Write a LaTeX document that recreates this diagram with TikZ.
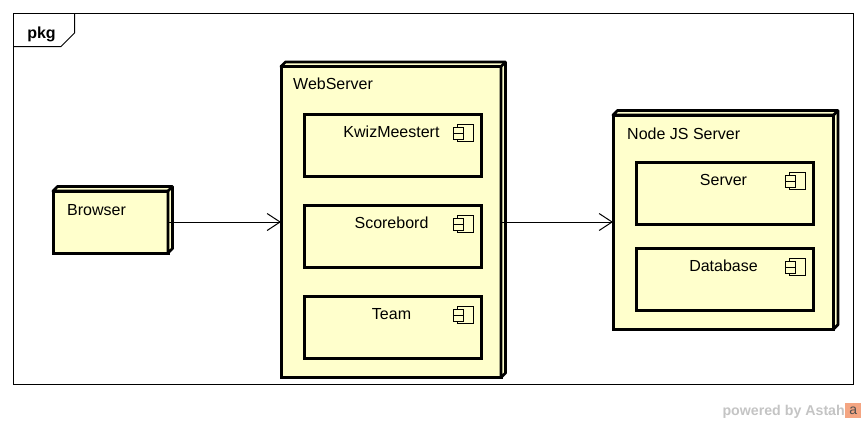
\documentclass[tikz,border=0pt]{standalone}
\usepackage{fontspec}
\setmainfont{Liberation Sans}
\usepackage{xcolor}
\usepackage{tikz}
\usetikzlibrary{calc}
\usetikzlibrary{positioning}
\usetikzlibrary{arrows.meta}
\definecolor{nodeyellow}{HTML}{FFFFCC}
\definecolor{astahgray}{HTML}{C4C4C4}
\definecolor{astahorange}{HTML}{F4A582}
\tikzstyle{frame}    = [rectangle, draw, line width=1.1pt, minimum width=840pt, minimum height=371pt, inner sep=0pt, outer sep=0pt]
\tikzstyle{tab}      = [draw, line width=1pt]
\tikzstyle{block}    = [rectangle, draw, fill=nodeyellow, line width=3pt, inner sep=0pt, outer sep=0pt]
\tikzstyle{comp}     = [block, minimum width=177pt, minimum height=62pt]
\tikzstyle{extrude}  = [draw, fill=nodeyellow, line width=2.8pt, line join=round]
\tikzstyle{icon}     = [draw, fill=nodeyellow, line width=1pt]
\tikzstyle{nodetext} = [anchor=base west, inner sep=0pt, font=\fontsize{16}{18}\selectfont]
\tikzstyle{comptext} = [anchor=base, inner sep=0pt, xshift=-1pt, yshift=-23pt, font=\fontsize{16}{18}\selectfont]
\tikzstyle{line}     = [draw, line width=1pt, -{Straight Barb[length=13pt,width=17pt,line width=1pt]}]
\newcommand{\nodedepth}[1]{
        \path [extrude] (#1.north west) -- ++(4.5pt,4.5pt) -- ($(#1.north east)+(4.5pt,4.5pt)$) -- ($(#1.south east)+(4.5pt,4.5pt)$) -- (#1.south east) -- (#1.north east) -- cycle;
        \draw [extrude] (#1.north east) -- ++(4.5pt,4.5pt);
}
\newcommand{\compicon}[1]{
        \path [icon] ($(#1.north east)+(-23.5pt,-10pt)$) rectangle ($(#1.north east)+(-7.5pt,-27pt)$);
        \path [icon] ($(#1.north east)+(-27.5pt,-13.5pt)$) rectangle ($(#1.north east)+(-17.5pt,-19pt)$);
        \path [icon] ($(#1.north east)+(-27.5pt,-19pt)$) rectangle ($(#1.north east)+(-17.5pt,-25pt)$);
}
\begin{document}
\begin{tikzpicture}[x=1pt, y=1pt]
        \useasboundingbox (0,0) rectangle (866,-424);
        \node [frame] (pkgframe) at (433.5,-199) {};
        \draw [tab] ($(pkgframe.north west)+(0,-33pt)$) -- ++(47.5pt,0) -- ++(13.5pt,13.5pt) -- ($(pkgframe.north west)+(61pt,0)$);
        \node [anchor=base, inner sep=0pt, font=\bfseries\fontsize{16}{18}\selectfont] (pkglabel) at (41.5,-38) {pkg};

        \node [block, minimum width=115pt, minimum height=62pt] (browser) at (110.5,-222) {};
        \nodedepth{browser}
        \node [block, minimum width=220pt, minimum height=311pt, right of=browser, node distance=280.5pt] (webserver) {};
        \nodedepth{webserver}
        \node [block, minimum width=220.5pt, minimum height=214pt, right of=webserver, node distance=332.25pt] (nodejs) {};
        \nodedepth{nodejs}

        \node [nodetext, xshift=14pt, yshift=-24pt] (browsertext) at (browser.north west) {Browser};
        \node [nodetext, xshift=12pt, yshift=-22.5pt] (webservertext) at (webserver.north west) {WebServer};
        \node [nodetext, xshift=14pt, yshift=-24pt] (nodejstext) at (nodejs.north west) {Node JS Server};

        \node [comp] (kwiz) at (392.5,-145) {};
        \node [comp, below of=kwiz, node distance=91pt] (scorebord) {};
        \node [comp, below of=scorebord, node distance=91pt] (team) {};
        \node [comp] (server) at (724.5,-193) {};
        \node [comp, below of=server, node distance=86pt] (database) {};
        \node [comptext] (kwiztext) at (kwiz.north) {KwizMeestert};
        \node [comptext] (scorebordtext) at (scorebord.north) {Scorebord};
        \node [comptext] (teamtext) at (team.north) {Team};
        \node [comptext] (servertext) at (server.north) {Server};
        \node [comptext] (databasetext) at (database.north) {Database};
        \compicon{kwiz}
        \compicon{scorebord}
        \compicon{team}
        \compicon{server}
        \compicon{database}

        \path [line] (browser) -- (webserver);
        \path [line] (webserver) -- (nodejs);

        \node [anchor=base east, inner sep=0pt, text=astahgray, font=\bfseries\fontsize{14.2}{16}\selectfont] (powered) at (845,-415) {powered by Astah};
        \node [anchor=west, fill=astahorange, text=astahgray!40!black, inner sep=0pt, minimum width=16pt, minimum height=15pt, font=\fontsize{14}{14}\selectfont, right=0pt of powered.base east, yshift=4.5pt] (astahlogo) {a};
\end{tikzpicture}
\end{document}
